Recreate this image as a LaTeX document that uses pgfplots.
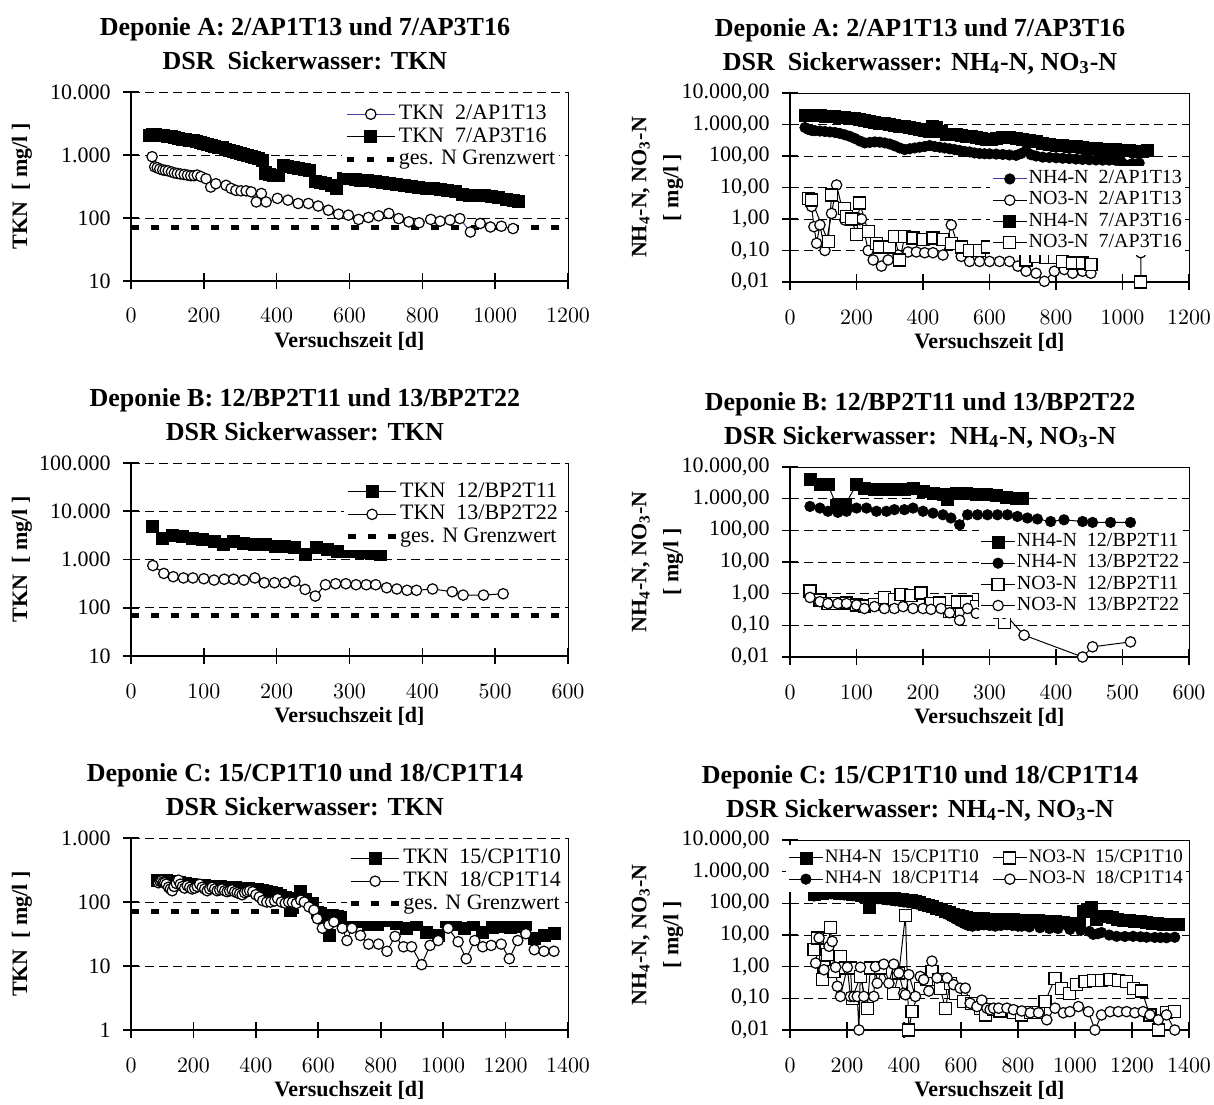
\documentclass[border=0pt]{standalone}
\usepackage{pgfplots}
\pgfplotsset{compat=1.18}
\usepackage{fontspec}
\setmainfont{Liberation Serif}

\definecolor{serblue}{rgb}{0.24,0.24,0.66}

% marker and line styles of the series
\tikzset{
  pSqFill/.style={black, line width=0.5pt, mark=square*, mark size=3pt,
    mark options={solid, fill=black, draw=black, line width=0.4pt}},
  pSqOpen/.style={black, line width=0.5pt, mark=square*, mark size=3pt,
    mark options={solid, fill=white, draw=black, line width=0.6pt}},
  pCiFill/.style={black, line width=0.5pt, mark=*, mark size=2.6pt,
    mark options={solid, fill=black, draw=black, line width=0.4pt}},
  pCiOpen/.style={black, line width=0.5pt, mark=*, mark size=2.6pt,
    mark options={solid, fill=white, draw=black, line width=0.6pt}},
  pLimit/.style={black, line width=2.5pt, dash pattern=on 3.75pt off 6.25pt},
}

% settings shared by all six panels
\pgfplotsset{
  every axis/.append style={
    scale only axis, anchor=south west, ymode=log, clip=false,
    unbounded coords=jump,
    axis x line*=bottom, axis y line*=left,
    axis line style={black, line width=0.8pt},
    tick align=center, major tick length=8pt,
    tick style={black, line width=0.8pt},
    yminorticks=false, xminorticks=false,
    ymajorgrids,
    major grid style={black, line width=0.5pt, dash pattern=on 4.5pt off 2.5pt},
    tick label style={font=\fontsize{11}{13}\selectfont},
    xticklabel style={anchor=base, inner sep=0pt, yshift=-17pt},
    yticklabel style={anchor=east, inner sep=0pt, xshift=-6pt},
    x tick label style={/pgf/number format/1000 sep={}},
    legend cell align=left,
    legend style={draw=none, fill=white, inner xsep=1pt, inner ysep=1pt, row sep=0pt},
  },
  every axis x label/.style={at={(axis description cs:0.5,0)}, anchor=base, yshift=-33pt,
    font=\fontsize{11}{13}\selectfont\bfseries},
  every axis title/.style={anchor=base, inner sep=0pt, yshift=11.5pt,
    font=\fontsize{13}{17}\selectfont\bfseries},
}

% left column (TKN) and right column (NH4/NO3)
\pgfplotsset{
  lpanel/.style={
    width=218.5pt,
    xlabel={Versuchszeit [d]},
    title style={at={(axis description cs:0.398,1)}},
    y label style={at={(axis description cs:-0.2494,0.5)}, anchor=center,
      font=\fontsize{11}{13}\selectfont\bfseries},
    ylabel={TKN\ \ [ mg/l ]},
    legend style={font=\fontsize{11}{13}\selectfont,
      nodes={inner sep=0.8pt, text height=7.5pt, text depth=2.2pt}},
    legend image code/.code={\draw[mark repeat=2, mark phase=2, ##1] plot coordinates {(0pt,0pt) (12pt,0pt) (24pt,0pt)};},
    after end axis/.code={\draw[black, line width=0.4pt] (rel axis cs:1,1) -- (rel axis cs:1,0);},
  },
  rpanel/.style={
    width=199.5pt,
    xlabel={Versuchszeit [d]},
    title style={at={(axis description cs:0.326,1)}},
    y label style={at={(axis description cs:-0.3358,0.5)}, anchor=center,
      font=\fontsize{11}{16}\selectfont\bfseries},
    ylabel={\begin{tabular}{@{}c@{}}NH\textsubscript{4}-N, NO\textsubscript{3}-N\\ {[} mg/l ]\end{tabular}},
    ymin=0.01, ymax=10000, ytick={0.01,0.1,1,10,100,1000,10000},
    yticklabels={{0,01},{0,10},{1,00},{10,00},{100,00},{1.000,00},{10.000,00}},
    legend style={font=\fontsize{10}{12}\selectfont,
      nodes={inner sep=0.7pt, text height=7pt, text depth=2.2pt}},
    legend image code/.code={\draw[mark repeat=2, mark phase=2, ##1] plot coordinates {(0pt,0pt) (8.5pt,0pt) (17pt,0pt)};},
    after end axis/.code={\draw[black, line width=0.4pt] (rel axis cs:0,1) -- (rel axis cs:1,1) -- (rel axis cs:1,0);},
  },
}

\begin{document}
\begin{tikzpicture}
\useasboundingbox (0pt,0pt) rectangle (607pt,-552pt);

% ================= Deponie A: TKN =================
\begin{axis}[lpanel,
  at={(65.5pt,-140.5pt)}, height=94.5pt,
  xmin=0, xmax=1200, xtick={0,200,...,1200},
  ymin=10, ymax=10000, ytick={10,100,1000,10000},
  yticklabels={10,100,1.000,10.000},
  title={\begin{tabular}[b]{@{}c@{}}Deponie A: 2/AP1T13 und 7/AP3T16\\DSR\ \ Sickerwasser: TKN\end{tabular}},
  legend style={at={(0.98,0.955)}, anchor=north east},
]
\addplot[pLimit, forget plot] coordinates {(0,70) (1200,70)};
\addplot[pCiOpen, serblue] coordinates {
(58,940)(65,650)(72,630)(79,600)(87,580)(94,570)(102,560)(111,540)(119,520)(127,510)
(136,500)(146,490)(155,480)(164,470)(173,470)(182,480)(192,455)(206,420)(219,310)(233,350)
(261,330)(275,295)(288,275)(302,270)(316,270)(330,260)(344,180)(358,245)(371,180)(402,205)
(431,192)(459,170)(487,170)(514,155)(542,133)(570,115)(597,111)(625,95)(652,102)(680,108)
(708,118)(735,98)(763,87)(791,84)(823,95)(849,89)(876,93)(903,98)(932,60)(959,82)
(987,72)(1017,74)(1049,68)};
\addlegendentry{TKN\ \ 2/AP1T13}
\addplot[pSqFill] coordinates {
(50,2050)(58,2100)(66,2100)(74,2080)(82,2050)(90,2030)(100,2000)(110,1950)(120,1900)(130,1850)
(140,1800)(150,1760)(160,1720)(170,1680)(180,1630)(190,1580)(200,1530)(210,1480)(220,1430)(230,1390)
(240,1340)(250,1300)(260,1250)(270,1200)(280,1160)(290,1120)(300,1080)(310,1040)(320,1000)(330,960)
(340,930)(350,880)(360,830)(370,520)(380,500)(392,480)(405,470)(418,690)(430,670)(445,640)
(460,620)(475,600)(490,570)(505,380)(520,370)(535,360)(550,330)(565,295)(583,420)(600,420)
(615,410)(630,400)(650,395)(670,380)(690,370)(710,355)(730,340)(750,330)(770,315)(790,310)
(810,300)(830,290)(850,280)(870,275)(890,265)(910,240)(930,225)(950,225)(970,230)(990,220)
(1010,210)(1030,200)(1050,190)(1063,182)};
\addlegendentry{TKN\ \ 7/AP3T16}
\addlegendimage{pLimit}
\addlegendentry{ges. N Grenzwert}
\end{axis}

% ================= Deponie A: NH4 / NO3 =================
\begin{axis}[rpanel,
  at={(395pt,-141pt)}, height=94.5pt,
  xmin=0, xmax=1200, xtick={0,200,...,1200},
  title={\begin{tabular}[b]{@{}c@{}}Deponie A: 2/AP1T13 und 7/AP3T16\\DSR\ \ Sickerwasser: NH\textsubscript{4}-N, NO\textsubscript{3}-N\end{tabular}},
  legend style={at={(0.992,0.614)}, anchor=north east},
]
\addplot[pCiFill, serblue] coordinates {
(45,800)(55,700)(65,650)(75,640)(90,620)(105,600)(120,580)(135,560)(150,520)(165,470)
(180,420)(195,360)(210,300)(225,260)(240,270)(255,280)(270,275)(285,260)(300,240)(315,210)
(330,180)(345,160)(360,170)(375,180)(390,190)(405,200)(420,215)(435,200)(450,190)(465,180)
(480,170)(495,160)(510,150)(525,140)(540,135)(555,125)(570,120)(585,118)(600,117)(620,115)
(640,112)(660,108)(680,105)(695,120)(710,150)(725,110)(740,100)(760,92)(780,90)(800,88)
(820,85)(840,83)(860,80)(880,78)(900,76)(920,75)(940,74)(960,74)(980,73)(995,68)
(1010,52)(1030,58)(1050,60)};
\addlegendentry{NH4-N\ \ 2/AP1T13}
\addplot[pCiOpen] coordinates {
(65,2.5)(72,0.57)(80,0.17)(90,0.65)(105,0.10)(125,1.5)(140,12)(165,0.93)(180,1.0)(190,0.9)
(200,1.1)(210,0.95)(215,1.0)(235,0.10)(250,0.05)(275,0.032)(295,0.05)(325,0.072)(355,0.09)(380,0.09)
(405,0.085)(430,0.085)(460,0.072)(485,0.65)(515,0.065)(540,0.045)(570,0.045)(600,0.045)(630,0.045)(660,0.045)
(685,0.032)(710,0.022)(740,0.019)(765,0.0105)(795,0.022)(825,0.025)(850,0.019)(880,0.022)(905,0.019)
(980,nan)(1055,0.01)(1055,0.085)};
\addlegendentry{NO3-N\ \ 2/AP1T13}
\addplot[pSqFill] coordinates {
(45,1900)(55,2000)(65,2000)(75,1950)(90,1900)(105,1850)(120,1800)(135,1750)(150,1700)(165,1650)
(180,1600)(195,1550)(210,1450)(225,1350)(240,1250)(255,1180)(270,1100)(285,1050)(300,1000)(315,950)
(330,900)(345,860)(360,800)(375,750)(390,700)(405,650)(418,620)(428,900)(440,800)(455,620)
(470,500)(485,480)(500,470)(515,450)(530,430)(545,420)(560,400)(575,350)(590,330)(605,340)
(620,370)(640,380)(660,380)(680,370)(700,340)(720,310)(740,290)(760,260)(780,240)(800,225)
(820,215)(840,205)(860,195)(880,185)(900,180)(920,170)(940,165)(960,162)(980,160)(1000,155)
(1020,150)(1040,145)(1060,145)(1075,150)};
\addlegendentry{NH4-N\ \ 7/AP3T16}
\addplot[pSqOpen] coordinates {
(55,4.6)(65,4.0)(115,0.19)(125,5.8)(165,2.2)(170,1.2)(185,1.0)(200,0.32)(210,3.2)(235,0.40)
(260,0.17)(270,0.13)(300,0.13)(315,0.28)(330,0.05)(345,0.28)(370,0.25)(400,0.22)(430,0.25)(460,0.22)
(485,0.17)(515,0.13)(540,0.10)(570,0.10)(595,0.13)(625,0.17)(650,0.19)(680,0.12)(710,0.05)(740,0.065)
(770,0.06)(795,0.06)(820,0.045)(850,0.04)(880,0.04)(905,0.035)(980,nan)(1055,0.01)};
\addlegendentry{NO3-N\ \ 7/AP3T16}
\end{axis}

% ================= Deponie B: TKN =================
\begin{axis}[lpanel,
  at={(65.5pt,-328pt)}, height=96.5pt,
  xmin=0, xmax=600, xtick={0,100,...,600},
  ymin=10, ymax=100000, ytick={10,100,1000,10000,100000},
  yticklabels={10,100,1.000,10.000,100.000},
  title={\begin{tabular}[b]{@{}c@{}}Deponie B: 12/BP2T11 und 13/BP2T22\\DSR Sickerwasser: TKN\end{tabular}},
  legend style={at={(0.986,0.922)}, anchor=north east},
]
\addplot[pLimit, forget plot] coordinates {(0,70) (600,70)};
\addplot[pSqFill] coordinates {
(30,4900)(43,2800)(57,3150)(70,2950)(84,2800)(98,2600)(114,2400)(127,2050)(141,2400)(155,2200)
(170,2100)(184,2050)(198,1900)(211,1900)(225,1750)(239,1260)(255,1750)(270,1620)(284,1500)(300,1450)
(316,1380)(330,1350)(343,1260)};
\addlegendentry{TKN\ \ 12/BP2T11}
\addplot[pCiOpen] coordinates {
(30,750)(45,515)(58,440)(72,415)(85,415)(100,400)(114,375)(128,390)(141,390)(155,375)
(170,415)(183,330)(197,330)(211,330)(225,355)(239,240)(253,175)(267,300)(281,315)(295,315)
(309,300)(323,300)(336,300)(351,260)(365,245)(379,230)(392,230)(414,245)(441,215)(456,183)
(484,183)(511,195)};
\addlegendentry{TKN\ \ 13/BP2T22}
\addlegendimage{pLimit}
\addlegendentry{ges. N Grenzwert}
\end{axis}

% ================= Deponie B: NH4 / NO3 =================
\begin{axis}[rpanel,
  at={(395pt,-328.5pt)}, height=95pt,
  xmin=0, xmax=600, xtick={0,100,...,600},
  title={\begin{tabular}[b]{@{}c@{}}Deponie B: 12/BP2T11 und 13/BP2T22\\DSR Sickerwasser:\ \ NH\textsubscript{4}-N, NO\textsubscript{3}-N\end{tabular}},
  legend style={at={(0.985,0.674)}, anchor=north east},
]
\addplot[pSqFill] coordinates {
(30,4000)(45,2800)(57,2800)(70,600)(83,650)(100,2780)(112,2180)(127,1930)(142,1930)(157,1930)
(172,2030)(185,2180)(200,1710)(215,1510)(230,1340)(237,930)(250,1510)(265,1510)(280,1400)(295,1340)
(310,1250)(325,1130)(340,1050)(350,1000)};
\addlegendentry{NH4-N\ \ 12/BP2T11}
\addplot[pCiFill] coordinates {
(30,570)(45,505)(57,400)(72,370)(85,400)(100,505)(115,505)(130,400)(145,400)(157,450)
(172,450)(185,505)(200,400)(215,350)(230,310)(242,245)(255,150)(267,310)(282,310)(297,310)
(312,310)(327,310)(342,275)(357,245)(372,228)(392,190)(412,215)(440,190)(455,178)(482,178)
(512,178)};
\addlegendentry{NH4-N\ \ 13/BP2T22}
\addplot[pSqOpen] coordinates {
(30,1.21)(45,0.63)(57,0.49)(70,0.49)(85,0.51)(100,0.44)(112,0.41)(127,0.46)(142,0.74)(157,0.65)
(167,0.95)(182,0.90)(197,1.05)(212,0.49)(225,0.51)(240,0.27)(252,0.55)(265,0.55)(280,0.39)(292,0.63)
(307,0.35)(315,0.25)(322,0.12)};
\addlegendentry{NO3-N\ \ 12/BP2T11}
\addplot[pCiOpen] coordinates {
(30,0.76)(45,0.56)(57,0.49)(72,0.49)(85,0.49)(100,0.44)(112,0.34)(127,0.39)(142,0.34)(157,0.34)
(170,0.39)(185,0.34)(200,0.34)(212,0.32)(227,0.34)(240,0.25)(255,0.145)(267,0.34)(280,0.24)(295,0.34)
(307,0.63)(322,0.24)(352,0.049)(440,0.01)(455,0.021)(512,0.030)};
\addlegendentry{NO3-N\ \ 13/BP2T22}
\end{axis}

% ================= Deponie C: TKN =================
\begin{axis}[lpanel,
  at={(65.5pt,-515pt)}, height=96pt,
  xmin=0, xmax=1400, xtick={0,200,...,1400},
  ymin=1, ymax=1000, ytick={1,10,100,1000},
  yticklabels={1,10,100,1.000},
  title={\begin{tabular}[b]{@{}c@{}}Deponie C: 15/CP1T10 und 18/CP1T14\\DSR Sickerwasser: TKN\end{tabular}},
  legend style={at={(0.993,0.985)}, anchor=north east, inner ysep=3pt},
]
\addplot[pLimit, forget plot] coordinates {(0,70) (1400,70)};
\addplot[pSqFill] coordinates {
(85,215)(95,220)(105,220)(115,215)(125,210)(135,205)(145,200)(155,200)(165,195)(175,195)
(185,190)(195,190)(205,185)(215,185)(225,180)(235,180)(245,178)(255,178)(265,175)(275,175)
(285,175)(295,172)(305,170)(315,170)(325,168)(335,168)(345,165)(355,165)(365,165)(375,162)
(385,160)(395,158)(405,155)(420,150)(435,145)(450,140)(465,135)(480,128)(495,120)(512,75)
(525,115)(544,145)(560,110)(581,95)(597,70)(608,66)(625,60)(634,30)(645,62)(660,60)
(680,58)(700,56)(720,54)(740,50)(761,44)(790,44)(820,52)(850,46)(883,39)(915,44)
(947,34)(984,30)(1011,49)(1040,44)(1069,39)(1098,44)(1127,34)(1157,40)(1186,41)(1215,40)
(1240,42)(1265,44)(1292,27)(1323,30)(1355,32)};
\addlegendentry{TKN\ \ 15/CP1T10}
\addplot[pCiOpen] coordinates {
(88,200)(93,210)(98,215)(103,205)(108,200)(113,190)(120,170)(126,160)(132,150)(138,175)
(145,195)(152,220)(158,190)(165,175)(172,165)(180,180)(188,170)(196,160)(204,165)(212,175)
(220,190)(228,170)(236,160)(244,150)(252,160)(260,170)(268,160)(276,150)(284,155)(292,160)
(300,150)(308,145)(316,150)(324,155)(332,145)(340,140)(348,135)(356,130)(364,140)(372,145)
(380,150)(390,145)(400,130)(411,120)(422,105)(435,100)(447,100)(460,104)(470,113)(482,100)
(494,96)(505,100)(517,99)(530,95)(544,107)(555,100)(570,84)(586,75)(597,55)(613,39)
(634,44)(650,49)(677,39)(692,25)(708,39)(735,30)(761,22)(793,22)(820,17)(846,29)
(873,20)(899,20)(931,10.5)(958,21)(984,25)(1016,39)(1048,24)(1074,13)(1101,25)(1127,20)
(1154,21)(1186,22)(1212,13)(1239,25)(1265,32)(1292,18)(1323,17)(1355,17)};
\addlegendentry{TKN\ \ 18/CP1T14}
\addlegendimage{pLimit}
\addlegendentry{ges. N Grenzwert}
\end{axis}

% ================= Deponie C: NH4 / NO3 =================
\begin{axis}[rpanel,
  at={(395pt,-515pt)}, height=95pt,
  xmin=0, xmax=1400, xtick={0,200,...,1400},
  title={\begin{tabular}[b]{@{}c@{}}Deponie C: 15/CP1T10 und 18/CP1T14\\DSR Sickerwasser: NH\textsubscript{4}-N, NO\textsubscript{3}-N\end{tabular}},
  legend columns=2,
  legend style={at={(-0.01,0.974)}, anchor=north west,
    font=\fontsize{9.5}{11}\selectfont,
    /tikz/column 2/.style={column sep=6pt}},
]
\addplot[pSqFill] coordinates {
(84,193)(100,205)(115,212)(130,218)(145,218)(160,215)(175,210)(190,205)(205,200)(220,195)
(235,190)(250,180)(265,170)(277,73)(290,165)(305,160)(320,155)(335,150)(350,145)(365,140)
(380,135)(395,130)(410,125)(425,120)(440,112)(455,105)(470,95)(485,85)(500,78)(515,70)
(530,63)(545,57)(560,50)(575,45)(590,41)(605,38)(620,35)(640,34)(660,33)(680,33)
(700,32)(720,32)(740,31)(760,31)(784,31)(810,30)(840,29)(870,28)(900,27)(930,26)
(960,25)(990,24)(1017,24)(1029,57)(1045,65)(1058,73)(1075,31)(1095,38)(1110,40)(1130,35)
(1150,32)(1170,30)(1190,28)(1210,27)(1230,26)(1250,25)(1270,24)(1290,23)(1310,22)(1330,22)
(1350,21)(1362,21)};
\addlegendentry{NH4-N\ \ 15/CP1T10}
\addplot[pSqOpen] coordinates {
(84,3.5)(96,8.1)(113,0.39)(119,0.98)(131,2.4)(142,17)(154,0.71)(177,2.1)(195,0.91)(212,0.91)
(218,0.10)(247,0.49)(271,0.049)(282,0.91)(317,0.91)(364,0.145)(382,0.63)(405,42)(417,0.01)(428,0.038)
(457,0.21)(481,0.39)(498,0.71)(522,0.39)(527,0.21)(545,0.049)(562,0.30)(580,0.145)(609,0.079)(638,0.07)
(667,0.049)(685,0.030)(714,0.044)(737,0.04)(784,0.035)(813,0.03)(843,0.035)(872,0.035)(895,0.079)(930,0.43)
(953,0.21)(982,0.145)(1006,0.27)(1035,0.34)(1064,0.37)(1093,0.37)(1123,0.39)(1152,0.37)(1181,0.34)(1204,0.21)
(1234,0.17)(1263,0.030)(1292,0.01)(1321,0.035)(1350,0.038)};
\addlegendentry{NO3-N\ \ 15/CP1T10}
\addplot[pCiFill] coordinates {
(84,170)(100,185)(115,195)(130,200)(145,200)(160,195)(175,190)(190,185)(205,180)(220,175)
(235,170)(250,160)(265,155)(280,150)(295,145)(310,140)(325,135)(340,130)(355,125)(370,120)
(385,115)(400,110)(415,105)(430,100)(445,95)(460,90)(475,85)(490,80)(505,72)(520,65)
(535,55)(550,45)(565,38)(580,32)(595,27)(610,23)(625,20)(640,19)(660,20)(680,21)
(700,20)(720,19)(740,20)(761,21)(780,20)(800,19)(813,19)(840,18)(877,17)(910,16)
(940,16)(982,15)(1020,14)(1050,13)(1064,10.5)(1080,11)(1093,12)(1120,10)(1146,9.1)(1175,9)
(1204,9.1)(1230,8.8)(1251,8.5)(1280,8.4)(1300,8.3)(1321,8.2)(1350,8.5)};
\addlegendentry{NH4-N\ \ 18/CP1T14}
\addplot[pCiOpen] coordinates {
(90,1.3)(102,8.1)(119,0.8)(137,4.4)(148,6.3)(160,0.96)(166,0.24)(177,0.115)(201,0.96)(212,0.115)
(224,0.115)(236,0.115)(242,0.01)(247,0.96)(259,0.115)(294,0.115)(300,1.0)(306,0.30)(329,1.2)(347,0.30)
(364,1.2)(382,0.63)(399,0.145)(405,0.13)(417,0.56)(440,0.115)(457,0.49)(469,0.39)(487,0.17)(498,1.5)
(516,0.44)(551,0.44)(574,0.27)(597,0.21)(615,0.21)(632,0.07)(656,0.055)(673,0.088)(691,0.049)(702,0.044)
(714,0.049)(732,0.049)(761,0.049)(784,0.044)(813,0.04)(843,0.035)(872,0.035)(901,0.021)(930,0.049)(959,0.035)
(982,0.038)(1012,0.055)(1047,0.038)(1070,0.01)(1093,0.03)(1123,0.038)(1152,0.038)(1181,0.038)(1210,0.035)(1239,0.038)
(1263,0.03)(1292,0.021)(1321,0.03)(1350,0.01)};
\addlegendentry{NO3-N\ \ 18/CP1T14}
\end{axis}

\end{tikzpicture}
\end{document}
